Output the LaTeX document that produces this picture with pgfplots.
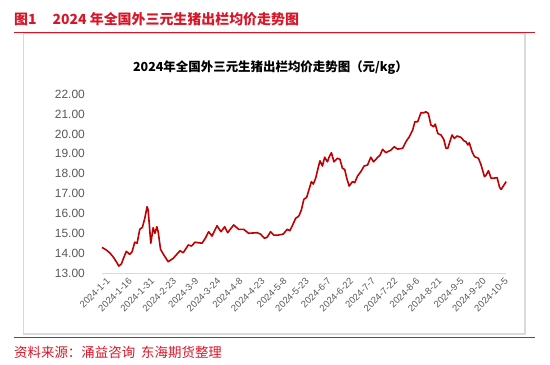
\documentclass[border=0pt]{standalone}
\usepackage{pgfplots}
\pgfplotsset{compat=1.18}
\usepackage{fontspec}
\setmainfont{Liberation Sans}
\newfontfamily\cjk{Noto Sans CJK SC}
\definecolor{hdred}{RGB}{216,22,40}
\definecolor{linered}{RGB}{192,0,0}
\definecolor{tickgray}{RGB}{89,89,89}
\definecolor{boxgray}{RGB}{217,217,217}
\begin{document}
\begin{tikzpicture}[x=1bp,y=1bp]
\begin{axis}[
  scale only axis,
  width=404bp, height=178.7bp,
  xmin=0, xmax=274, ymin=13, ymax=22,
  axis line style={draw=none},
  tick style={draw=none},
  /pgf/number format/assume math mode=true,
  xtick={0,15,...,270},
  xticklabels={2024-1-1,2024-1-16,2024-1-31,2024-2-23,2024-3-9,2024-3-24,2024-4-8,2024-4-23,2024-5-8,2024-5-23,2024-6-7,2024-6-22,2024-7-7,2024-7-22,2024-8-6,2024-8-21,2024-9-5,2024-9-20,2024-10-5},
  x tick label style={rotate=45, anchor=east, inner sep=0, yshift=-9bp, text=tickgray, font=\fontsize{9.5}{9.5}\selectfont},
  ytick={13,14,...,22},
  yticklabel={\pgfmathprintnumber[fixed,fixed zerofill,precision=2]{\tick}},
  y tick label style={anchor=east, inner sep=0, xshift=-17bp, text=tickgray, font=\fontsize{12}{12}\selectfont},
  clip=false,
]
\coordinate (O) at (rel axis cs:0,0);
\draw[boxgray, line width=1bp] (rel axis cs:0,0) -- (rel axis cs:1,0);
\addplot[linered, line width=1.6bp, line join=round] coordinates {
(0,14.29)(2.9,14.16)(5.2,14.02)(7.5,13.82)(9.7,13.57)(11.4,13.35)(13.1,13.45)(15.0,13.82)(16.5,14.09)(18.8,13.94)(20.4,14.07)(22.2,14.55)(23.8,14.50)(25.6,15.20)(27.4,15.30)(29.0,15.75)(30.6,16.34)(31.3,16.17)(33.1,14.50)(34.7,15.28)(35.9,15.00)(37.2,15.33)(38.1,15.08)(39.7,14.19)(42.0,13.90)(44.9,13.57)(48.3,13.74)(52.9,14.12)(55.1,14.02)(58.5,14.41)(60.7,14.36)(63.1,14.55)(64.8,14.53)
(67.8,14.50)(70.1,14.75)(72.3,15.08)(74.6,14.86)(78.0,15.38)(80.7,15.08)(83.2,15.33)(85.2,15.03)(89.3,15.42)(92.7,15.20)(96.1,15.20)(99.5,15.00)(105.2,15.03)(107.5,14.96)(110.2,14.75)(112.0,14.80)(114.3,15.08)(116.5,14.91)(118.8,14.90)(122.9,14.96)(125.6,15.20)(127.4,15.13)(129.0,15.37)(131.3,15.75)(133.5,15.87)(135.2,16.17)(136.9,16.71)(138.8,16.81)(140.3,17.18)(142.0,17.60)(143.3,17.48)(144.9,17.77)(146.5,18.27)(147.8,18.65)(149.5,18.39)(151.0,18.83)(152.9,18.60)(154.0,18.83)(155.6,19.06)(157.3,18.60)(159.7,18.78)(161.4,18.72)(163.1,18.27)(164.6,18.22)(166.0,17.77)(167.6,17.38)(169.9,17.60)(171.4,17.55)(173.3,17.88)(175.5,18.10)(177.8,18.39)(180.1,18.44)(182.3,18.83)(184.2,18.60)(186.4,18.78)(188.6,18.94)(190.3,19.23)(192.5,19.06)(195.9,19.19)(198.2,19.36)(200.5,19.24)(203.9,19.28)(206.1,19.61)(208.4,19.86)(210.7,20.20)(212.2,20.62)(214.1,20.62)(216.3,21.07)(218.2,21.07)(219.7,21.12)(221.3,21.04)(223.1,20.45)(224.9,20.37)(226.0,20.50)(227.7,20.03)(229.9,19.95)(231.8,19.73)(233.3,19.28)(234.5,19.28)(236.3,19.70)(237.4,19.95)(239.0,19.78)(240.8,19.90)(243.5,19.83)(245.4,19.66)(246.9,19.61)(248.1,19.45)(249.1,19.56)(251.0,19.11)(252.6,18.86)(255.3,18.78)(257.1,18.44)(259.4,17.85)(260.5,17.93)(262.1,18.15)(263.9,17.77)(265.1,17.77)(268.0,17.80)(269.6,17.32)(270.7,17.21)(272.6,17.43)(274.1,17.60)
};
\end{axis}
\pgfresetboundingbox
\begin{scope}[shift={(O)}, xshift=-102bp, yshift=-91bp]
\path[use as bounding box] (0,0) rectangle (550,364);
\draw[boxgray, line width=1.8bp] (23.5,30) rectangle (525,331);
\draw[hdred, line width=1bp] (14,332) -- (535,332);
\draw[hdred, line width=1bp] (14,26.5) -- (535,26.5);
\node[anchor=west, inner sep=0, text=hdred, font=\cjk\bfseries\fontsize{14}{14}\selectfont] at (14,345) {图1\hspace{16bp}2024 年全国外三元生猪出栏均价走势图};
\node[anchor=west, inner sep=0, text=hdred, font=\cjk\fontsize{13.5}{13.5}\selectfont] at (14,11.5) {资料来源：涌益咨询\hspace{6bp}东海期货整理};
\node[inner sep=0, font=\cjk\bfseries\fontsize{12.5}{12.5}\selectfont] at (270.5,296.5) {2024年全国外三元生猪出栏均价走势图（元/kg）};
\end{scope}
\end{tikzpicture}
\end{document}
